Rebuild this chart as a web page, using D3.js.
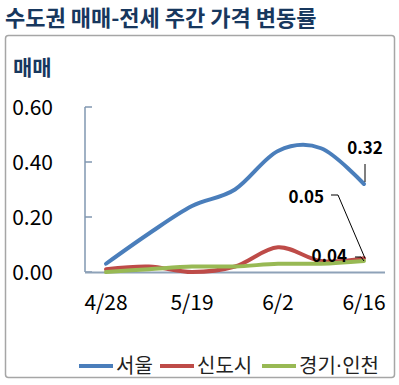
<!DOCTYPE html>
<html><head><meta charset="utf-8">
<script src="https://cdn.jsdelivr.net/npm/d3@7"></script>
<style>
html,body{margin:0;padding:0;background:#fff;}
svg{display:block;font-family:"Noto Sans CJK KR","Noto Sans",sans-serif;}
</style></head>
<body><svg id="c" width="399" height="385"></svg>
<script>
const weeks = ["4/28","5/12","5/19","5/26","6/2","6/9","6/16"];
const tickLabels = ["4/28","5/19","6/2","6/16"];
const seoul = [0.03, 0.14, 0.24, 0.30, 0.44, 0.45, 0.32];
const newTowns = [0.01, 0.02, 0.00, 0.02, 0.09, 0.04, 0.05];
const gyeonggi = [0.00, 0.01, 0.02, 0.02, 0.03, 0.03, 0.04];
const yTicks = [0, 0.2, 0.4, 0.6];
const seriesNames = ["서울","신도시","경기·인천"];
const colors = ["#4a7ebb","#be4b48","#98b954"];

const svg = d3.select("#c");
svg.append("text").attr("x",5).attr("y",26).attr("fill","#17375e")
  .attr("font-size",22).attr("font-weight","bold").text("수도권 매매-전세 주간 가격 변동률");
svg.append("rect").attr("x",5.5).attr("y",35.5).attr("width",389).attr("height",342)
  .attr("rx",3).attr("fill","#fff").attr("stroke","#a6a6a6").attr("stroke-width",1.5);
svg.append("text").attr("x",13).attr("y",75).attr("fill","#17375e")
  .attr("font-size",21).attr("font-weight","bold").text("매매");

const x = d3.scalePoint().domain(weeks).range([106,364]);
const y = d3.scaleLinear().domain([0,0.6]).range([272,107]);
const axisColor = "#8097b1";

// y axis
svg.append("line").attr("x1",85).attr("x2",85).attr("y1",y(0.6)).attr("y2",y(0)).attr("stroke",axisColor).attr("stroke-width",1.5);
svg.selectAll(".yt").data(yTicks).enter().append("line")
  .attr("x1",85).attr("x2",92).attr("y1",d=>y(d)).attr("y2",d=>y(d)).attr("stroke",axisColor).attr("stroke-width",1.5);
svg.selectAll(".yl").data(yTicks).enter().append("text")
  .attr("x",53).attr("y",d=>y(d)+8).attr("text-anchor","end").attr("font-size",21).attr("fill","#000")
  .text(d=>d.toFixed(2));
// x axis
svg.append("line").attr("x1",85).attr("x2",385).attr("y1",y(0)+0.5).attr("y2",y(0)+0.5).attr("stroke","#8ea2b8").attr("stroke-width",2);
svg.selectAll(".xl").data(tickLabels).enter().append("text")
  .attr("x",d=>x(d)).attr("y",310).attr("text-anchor","middle").attr("font-size",21).attr("fill","#000")
  .text(d=>d);

const line = d3.line().x((d,i)=>x(weeks[i])).y(d=>y(d)).curve(d3.curveCardinal.tension(0));
const data = [seoul,newTowns,gyeonggi];
[1,2,0].forEach(k=>{
  svg.append("path").attr("d",line(data[k])).attr("fill","none").attr("stroke",colors[k])
    .attr("stroke-width",4).attr("stroke-linecap","round");
});

// annotations
const last = weeks[weeks.length-1];
const xe = x(last);
svg.append("line").attr("x1",xe+1).attr("x2",xe+1).attr("y1",y(seoul[6])-20).attr("y2",y(seoul[6])-2).attr("stroke","#000").attr("stroke-width",1);
svg.append("text").attr("x",xe+1).attr("y",y(seoul[6])-30).attr("text-anchor","middle").attr("font-size",17).attr("font-weight","bold").text(seoul[6].toFixed(2));

svg.append("polyline").attr("points",[[xe-33,195],[xe-26,195],[xe+1,y(newTowns[6])]].map(p=>p.join(",")).join(" "))
  .attr("fill","none").attr("stroke","#000").attr("stroke-width",1);
svg.append("text").attr("x",xe-40).attr("y",203).attr("text-anchor","end").attr("font-size",17).attr("font-weight","bold").text(newTowns[6].toFixed(2));

svg.append("polyline").attr("points",[[xe-9,y(gyeonggi[6])-4],[xe-3,y(gyeonggi[6])-4],[xe,y(gyeonggi[6])]].map(p=>p.join(",")).join(" "))
  .attr("fill","none").attr("stroke","#000").attr("stroke-width",1);
svg.append("text").attr("x",xe-17).attr("y",y(gyeonggi[6])+1).attr("text-anchor","end").attr("font-size",17).attr("font-weight","bold").text(gyeonggi[6].toFixed(2));

// legend
const legX = [79,160,262];
seriesNames.forEach((n,i)=>{
  svg.append("line").attr("x1",legX[i]).attr("x2",legX[i]+34).attr("y1",366).attr("y2",366).attr("stroke",colors[i]).attr("stroke-width",4);
  const t = svg.append("text").attr("x",legX[i]+37).attr("y",373).attr("font-size",20).attr("fill","#222");
  n.split(/(·)/).forEach(part=>{
    if(!part) return;
    const ts = t.append("tspan").text(part);
    if(part==="·") ts.attr("font-family","DejaVu Sans");
  });
});
</script></body></html>
